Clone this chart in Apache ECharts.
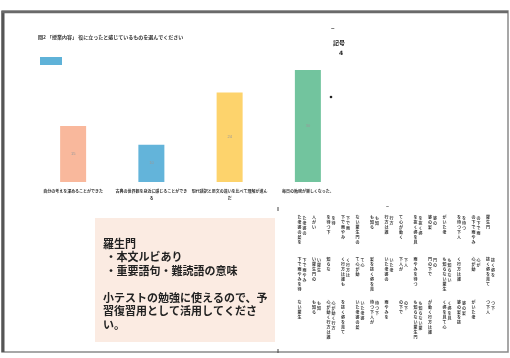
<!DOCTYPE html>
<html><head><meta charset="utf-8">
<script src="https://cdn.jsdelivr.net/npm/echarts@6/dist/echarts.min.js"></script>
<style>html,body{margin:0;padding:0;background:#fff}#c{width:510px;height:358px}</style>
</head><body><div id="c"></div>
<script>
const categories = ['自分の考えを深めることができた', '古典の世界観を身近に感じることができ\nる', '現代語訳と原文の違いを比べて理解が進ん\nだ', '毎日の勉強が楽しくなった。'];
const values = [15, 10, 24, 30];
const barColors = ['#f9b89c', '#63b4da', '#fdd36c', '#72c49e'];
const chartTitle = '問2 「授業内容」 役に立ったと感じているものを選んでください';
const boxLines = ['羅生門', ' ・本文ルビあり', ' ・重要語句・難読語の意味', '', '小テストの勉強に使えるので、予', '習復習用として活用してくださ', 'い。'];

const chart = echarts.init(document.getElementById('c'), null, {renderer: 'canvas'});

// vertical text columns of the scanned page (decorative)
const colGraphics = [];
const colChars = '羅生門の下で雨やみを待つ下人がいた老婆の髪を抜く姿を見て心が動く行方は誰も知らない';
const rows = [{y: 215, n: 6}, {y: 257, n: 7}, {y: 300, n: 8}];
let k = 0;
for (let r = 0; r < rows.length; r++) {
  for (let c = 0; c < 14; c++) {
    const x = 486 - c * 14.5;
    const len = 3 + ((c * 7 + r * 3) % (rows[r].n - 2));
    let s = '';
    for (let i = 0; i < len; i++) { s += colChars[(k++) % colChars.length] + (i < len - 1 ? '\n' : ''); }
    colGraphics.push({type: 'text', left: x, top: rows[r].y, style: {text: s, font: 'bold 4px "Noto Sans CJK JP"', fill: '#333', lineHeight: 5}});
    if ((c + r) % 3 !== 0) {
      const s2 = s.split('\n').slice(0, Math.max(2, len - 2)).join('\n');
      colGraphics.push({type: 'text', left: x + 5, top: rows[r].y + 1, style: {text: s2, font: 'bold 4px "Noto Sans CJK JP"', fill: '#444', lineHeight: 5}});
    }
  }
}

chart.setOption({
  animation: false,
  backgroundColor: '#ffffff',
  title: {text: chartTitle, left: 33, top: 30, textStyle: {fontSize: 5, fontWeight: 'bold', color: '#333', fontFamily: 'Noto Sans CJK JP'}},
  legend: {left: 35, top: 52, itemWidth: 22, itemHeight: 8, icon: 'rect', formatter: () => '', data: ['回答数'], itemStyle: {color: '#5fb2d8'}},
  grid: {left: 34, right: 163, top: 70, bottom: 176},
  xAxis: {type: 'category', data: categories, axisLine: {show: false}, axisTick: {show: false},
    axisLabel: {interval: 0, fontSize: 4, fontWeight: 'bold', color: '#333', margin: 6, lineHeight: 7, fontFamily: 'Noto Sans CJK JP'}},
  yAxis: {type: 'value', min: 0, max: 30, show: false, splitLine: {show: false}},
  series: [{
    name: '回答数', type: 'bar', barWidth: 26,
    itemStyle: {color: '#5fb2d8'},
    data: values.map((v, i) => ({value: v, itemStyle: {color: barColors[i]}})),
    label: {show: true, position: 'inside', fontSize: 4, color: '#999'}
  }],
  graphic: [
    {type: 'rect', shape: {x: 2, y: 11, width: 506, height: 341}, style: {fill: 'none', stroke: '#8a8a8a', lineWidth: 1.5}},
    {type: 'line', shape: {x1: 3, y1: 11, x2: 3, y2: 352}, style: {stroke: '#555', lineWidth: 3}},
    {type: 'line', shape: {x1: 2, y1: 12, x2: 508, y2: 12}, style: {stroke: '#6a6a6a', lineWidth: 2.5}},
    {type: 'rect', shape: {x: 95, y: 218, width: 180, height: 124}, style: {fill: '#fbebe2'}},
    {type: 'text', left: 103, top: 237, style: {text: boxLines.join('\n'), font: 'bold 11px "Noto Sans CJK JP"', fill: '#222', lineHeight: 13.5}},
    {type: 'text', left: 331, top: 26, style: {text: '−', font: 'bold 6px "Noto Sans CJK JP"', fill: '#333'}},
    {type: 'text', left: 333, top: 40, style: {text: '記号', font: 'bold 6px "Noto Sans CJK JP"', fill: '#222'}},
    {type: 'text', left: 339, top: 50, style: {text: '4', font: 'bold 6px "DejaVu Sans"', fill: '#222'}},
    {type: 'circle', shape: {cx: 331, cy: 97, r: 1.3}, style: {fill: '#222'}},
    {type: 'line', shape: {x1: 278, y1: 207, x2: 278, y2: 211}, style: {stroke: '#444', lineWidth: 1}},
    {type: 'line', shape: {x1: 278, y1: 349, x2: 278, y2: 353}, style: {stroke: '#444', lineWidth: 1}},
    {type: 'text', left: 386, top: 204, style: {text: '−', font: 'bold 5px "Noto Sans CJK JP"', fill: '#333'}}
  ].concat(colGraphics)
});
</script></body></html>
